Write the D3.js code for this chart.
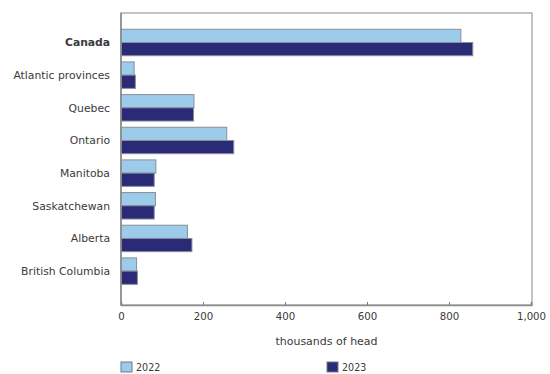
<!DOCTYPE html>
<html>
<head>
<meta charset="utf-8">
<script src="https://cdn.jsdelivr.net/npm/d3@7"></script>
<style>
  html, body { margin: 0; padding: 0; background: #fff; }
  svg { display: block; }
  svg text { font-family: 'DejaVu Sans'; fill: #3a3a3a; }
</style>
</head>
<body>
<svg id="chart" width="550" height="374"></svg>
<script>
// Cattle inventory by province, thousands of head
const regions = ["Canada", "Atlantic provinces", "Quebec", "Ontario", "Manitoba",
                 "Saskatchewan", "Alberta", "British Columbia"];
const values2022 = [829, 32, 178, 258, 85, 84, 162, 38];
const values2023 = [858, 35, 177, 275, 81, 81, 173, 40];
const seriesNames = ["2022", "2023"];
const seriesColors = ["#9dcbea", "#2a2a76"];
const xTicks = [0, 200, 400, 600, 800, 1000];
const xTitle = "thousands of head";

const FONT = "DejaVu Sans";
const svg = d3.select("#chart");
const plot = { left: 121, right: 532, top: 13, bottom: 305 };

const x = d3.scaleLinear().domain([0, 1000]).range([plot.left, plot.left + 410]);
const y = d3.scaleBand().domain(regions).range([26, 287.6])
  .paddingInner(0.19).paddingOuter(0.1);
const sub = d3.scaleBand().domain(seriesNames).range([0, y.bandwidth()]);

// frame around the plot area
svg.append("rect")
  .attr("x", plot.left).attr("y", plot.top)
  .attr("width", plot.right - plot.left).attr("height", plot.bottom - plot.top)
  .attr("fill", "none").attr("stroke", "#b4b4b4").attr("stroke-width", 1.6);

// bars
const rows = regions.map((r, i) => ({ region: r, vals: [values2022[i], values2023[i]] }));
const g = svg.append("g");
rows.forEach(row => {
  row.vals.forEach((v, k) => {
    g.append("rect")
      .attr("x", x(0))
      .attr("y", y(row.region) + sub(seriesNames[k]))
      .attr("width", x(v) - x(0))
      .attr("height", sub.bandwidth())
      .attr("fill", seriesColors[k])
      .attr("stroke", "#8a8f99")
      .attr("stroke-width", 1);
  });
});

// category labels
svg.append("g").selectAll("text").data(regions).join("text")
  .attr("x", 110)
  .attr("y", d => y(d) + y.bandwidth() / 2)
  .attr("dy", "0.35em")
  .attr("text-anchor", "end")
  .attr("font-family", FONT)
  .attr("font-size", 10.8)
  .attr("font-weight", d => d === "Canada" ? "bold" : "normal")
  .attr("textLength", d => d === "Canada" ? 45 : null)
  .text(d => d);

// bottom axis
const xAxis = d3.axisBottom(x).tickValues(xTicks)
  .tickSize(-3).tickPadding(8)
  .tickFormat(d3.format(","));
const ax = svg.append("g").attr("transform", `translate(0,${plot.bottom})`).call(xAxis)
  .attr("font-family", FONT).attr("font-size", 10.2);
ax.select(".domain").attr("stroke", "#8c8c8c").attr("stroke-width", 1.6);
ax.selectAll(".tick line").attr("stroke", "#777");
ax.selectAll(".tick text").attr("fill", "#3a3a3a");
// left axis line
svg.append("line")
  .attr("x1", plot.left).attr("x2", plot.left)
  .attr("y1", plot.top).attr("y2", plot.bottom)
  .attr("stroke", "#8c8c8c").attr("stroke-width", 1.6);

// axis title
svg.append("text")
  .attr("x", (plot.left + plot.right) / 2)
  .attr("y", 344.5)
  .attr("text-anchor", "middle")
  .attr("font-family", FONT)
  .attr("font-size", 11)
  .text(xTitle);

// legend
const legendX = [121, 327];
seriesNames.forEach((name, k) => {
  svg.append("rect")
    .attr("x", legendX[k]).attr("y", 362)
    .attr("width", 11).attr("height", 10)
    .attr("fill", seriesColors[k])
    .attr("stroke", "#6f7a8a").attr("stroke-width", 1);
  svg.append("text")
    .attr("x", legendX[k] + 15).attr("y", 371)
    .attr("font-family", FONT)
    .attr("font-size", 9.6)
    .text(name);
});
</script>
</body>
</html>
